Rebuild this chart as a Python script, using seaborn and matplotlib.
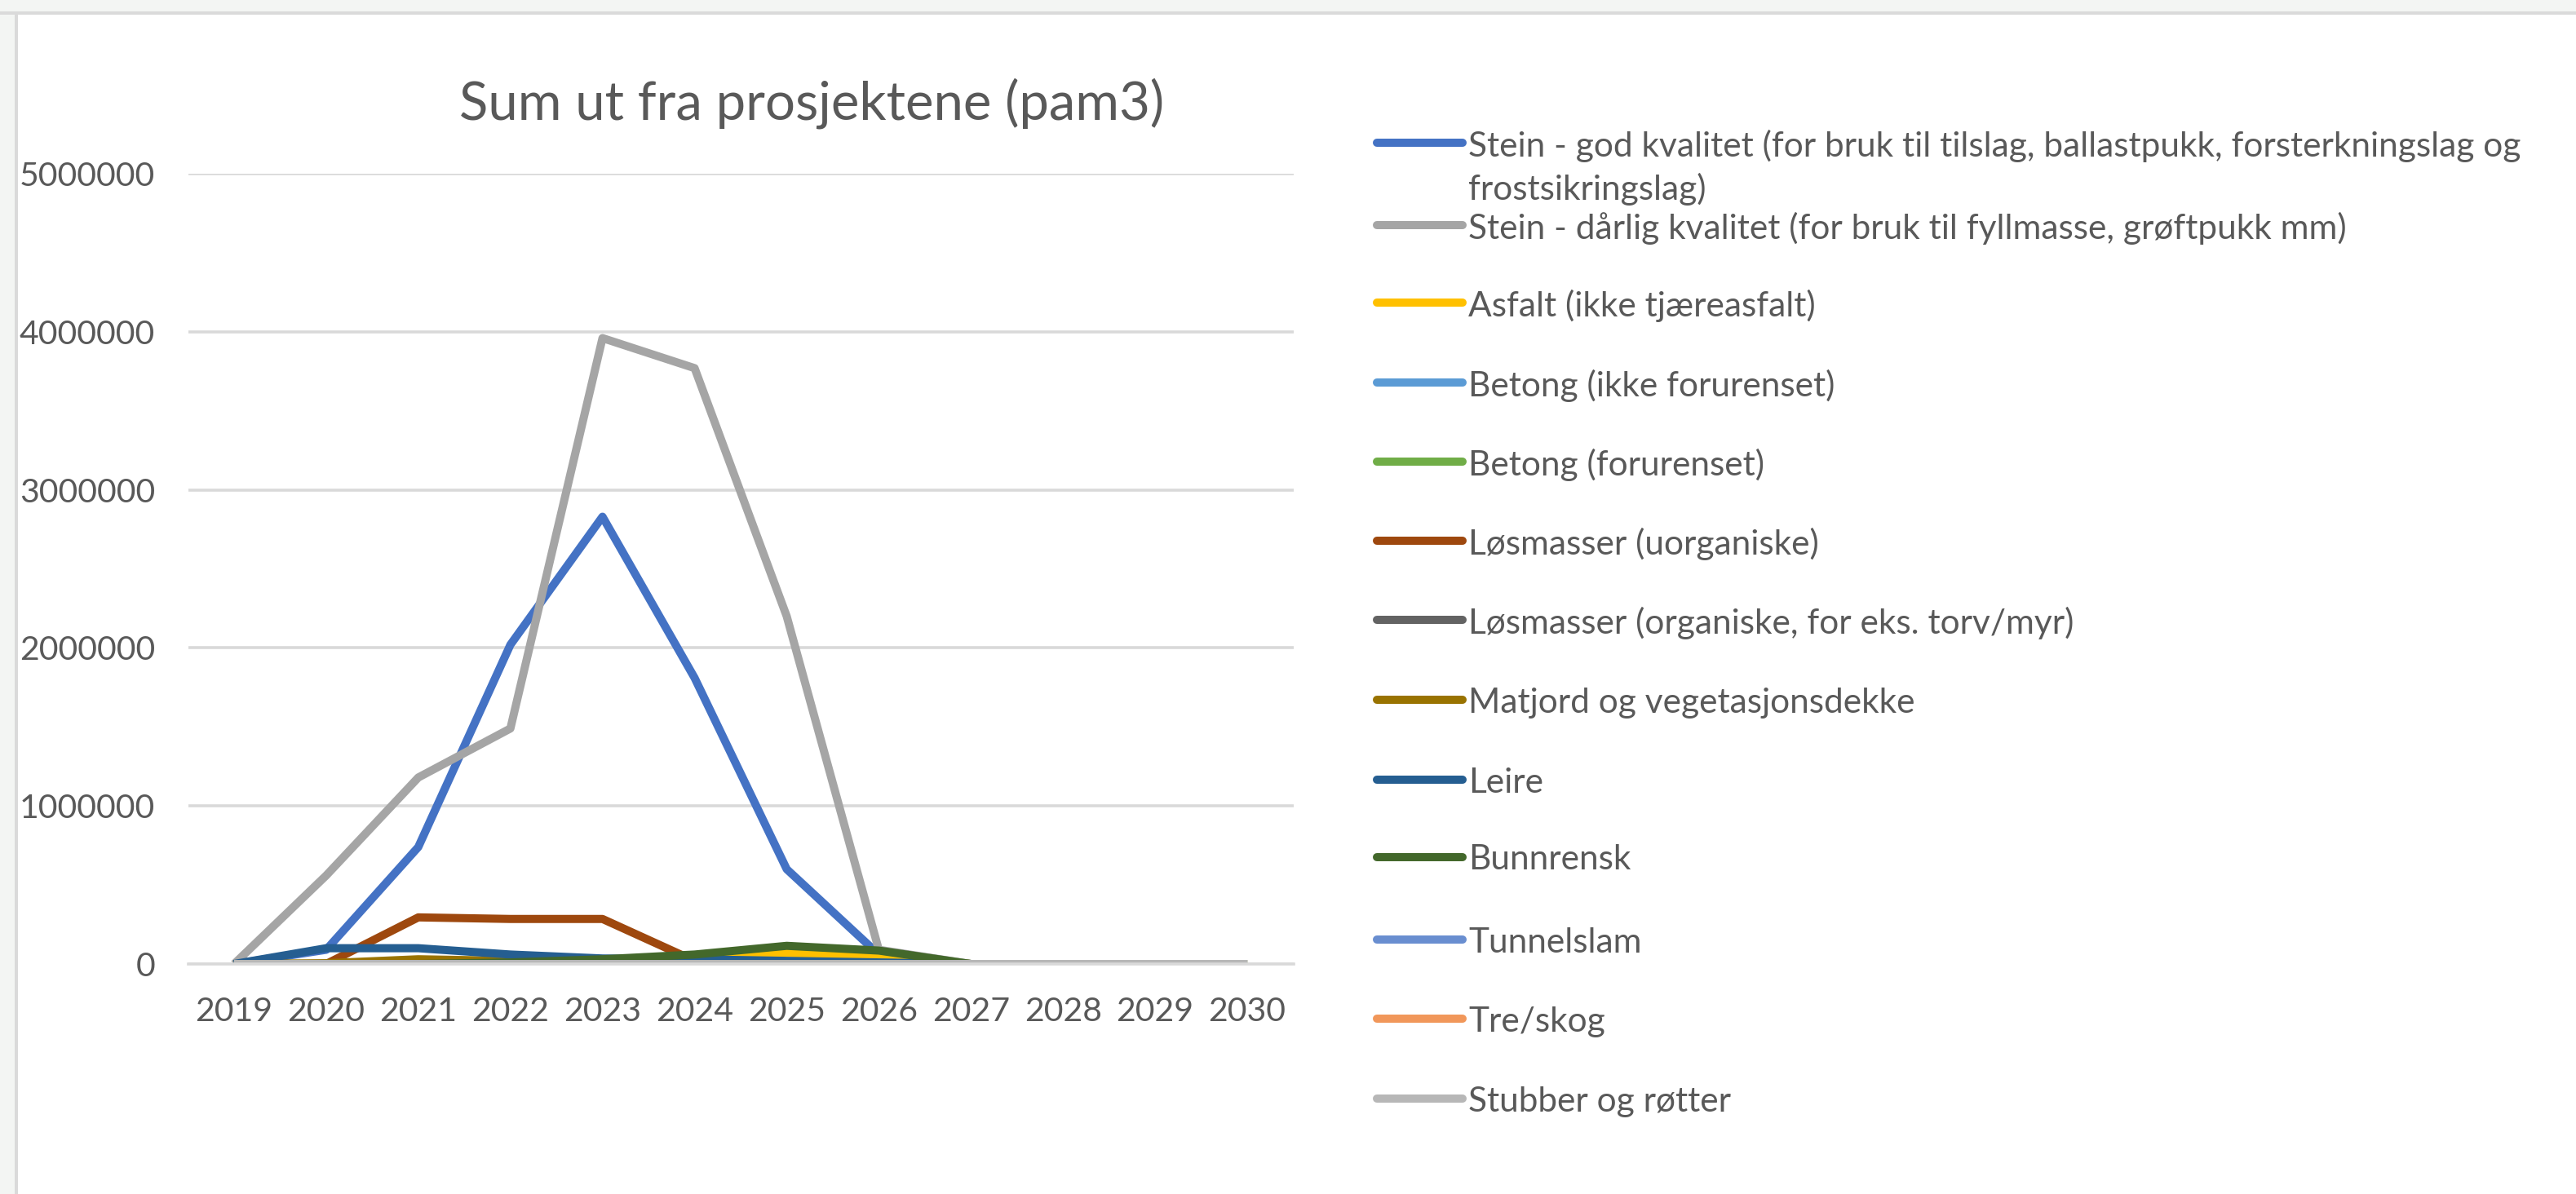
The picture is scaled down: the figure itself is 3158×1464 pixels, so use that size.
import numpy as np
import pandas as pd
import matplotlib
matplotlib.use("Agg")
import matplotlib.pyplot as plt
import seaborn as sns
from matplotlib.lines import Line2D
from matplotlib.patches import Rectangle

years = [2019, 2020, 2021, 2022, 2023, 2024, 2025, 2026, 2027, 2028, 2029, 2030]

series_names = [
    "Stein - god kvalitet (for bruk til tilslag, ballastpukk, forsterkningslag og\nfrostsikringslag)",
    "Stein - dårlig kvalitet (for bruk til fyllmasse, grøftpukk mm)",
    "Asfalt (ikke tjæreasfalt)",
    "Betong (ikke forurenset)",
    "Betong (forurenset)",
    "Løsmasser (uorganiske)",
    "Løsmasser (organiske, for eks. torv/myr)",
    "Matjord og vegetasjonsdekke",
    "Leire",
    "Bunnrensk",
    "Tunnelslam",
    "Tre/skog",
    "Stubber og røtter",
]

stein_god = [0, 90000, 740000, 2020000, 2830000, 1810000, 600000, 60000, 0, 0, 0, 0]
stein_darlig = [0, 560000, 1180000, 1490000, 3960000, 3770000, 2200000, 90000, 0, 0, 0, 0]
asfalt = [0, 0, 5000, 10000, 10000, 20000, 70000, 40000, 0, 0, 0, 0]
betong_ikke = [0, 0, 0, 0, 0, 0, 5000, 0, 0, 0, 0, 0]
betong_forurenset = [0, 0, 0, 0, 0, 0, 0, 0, 0, 0, 0, 0]
losmasser_uorg = [0, 0, 295000, 285000, 285000, 20000, 10000, 0, 0, 0, 0, 0]
losmasser_org = [0, 0, 0, 0, 0, 0, 0, 0, 0, 0, 0, 0]
matjord = [0, 5000, 30000, 20000, 10000, 0, 0, 0, 0, 0, 0, 0]
leire = [0, 100000, 100000, 60000, 35000, 30000, 20000, 10000, 0, 0, 0, 0]
bunnrensk = [0, 0, 0, 10000, 30000, 60000, 115000, 85000, 0, 0, 0, 0]
tunnelslam = [0, 0, 0, 0, 0, 0, 0, 0, 0, 0, 0, 0]
tre_skog = [0, 0, 0, 0, 0, 0, 0, 0, 0, 0, 0, 0]
stubber = [0, 0, 0, 0, 0, 0, 0, 0, 0, 0, 0, 0]

all_values = [stein_god, stein_darlig, asfalt, betong_ikke, betong_forurenset,
              losmasser_uorg, losmasser_org, matjord, leire, bunnrensk,
              tunnelslam, tre_skog, stubber]

colors = ["#4472C4", "#A5A5A5", "#FFC000", "#5B9BD5", "#70AD47", "#9E480E",
          "#636363", "#997300", "#255E91", "#43682B", "#698ED0", "#F1975A", "#B7B7B7"]

rows = []
for name, vals in zip(series_names, all_values):
    for y, v in zip(years, vals):
        rows.append({"År": y, "Verdi": v, "Serie": name})
df = pd.DataFrame(rows)

sns.set_theme(style="white")
plt.rcParams['font.family'] = ['Lato', 'DejaVu Sans']

W, H = 3158, 1464
fig = plt.figure(figsize=(W / 100, H / 100), dpi=100, facecolor="white")

# outer frame (light gray strips + border)
fig.add_artist(Rectangle((0, 1 - 14 / H), 1, 14 / H, transform=fig.transFigure,
                         facecolor="#F3F5F3", edgecolor="none", zorder=0))
fig.add_artist(Rectangle((0, 0), 18 / W, 1, transform=fig.transFigure,
                         facecolor="#F3F5F3", edgecolor="none", zorder=0))
fig.add_artist(Rectangle((0, 1 - 18 / H), 1, 4 / H, transform=fig.transFigure,
                         facecolor="#DADADA", edgecolor="none", zorder=0))
fig.add_artist(Rectangle((18 / W, 0), 4 / W, 1 - 14 / H, transform=fig.transFigure,
                         facecolor="#DADADA", edgecolor="none", zorder=0))

ax_left, ax_right = 230.5, 1585.5
ax_top, ax_bottom = 213, 1182
ax = fig.add_axes([ax_left / W, 1 - ax_bottom / H, (ax_right - ax_left) / W, (ax_bottom - ax_top) / H])
ax.set_facecolor("none")

sns.lineplot(data=df, x="År", y="Verdi", hue="Serie", hue_order=series_names,
             palette=colors, linewidth=7.2, legend=False, sort=False, ax=ax,
             solid_joinstyle="round", solid_capstyle="butt")

ax.set_xlim(2018.5, 2030.5)
ax.set_ylim(0, 5000000)
ax.set_xticks(years)
ax.set_xticklabels([str(y) for y in years])
ax.set_yticks([0, 1000000, 2000000, 3000000, 4000000, 5000000])
ax.set_yticklabels(["0", "1000000", "2000000", "3000000", "4000000", "5000000"])
ax.yaxis.grid(True, color="#D9D9D9", linewidth=2.6)
ax.set_axisbelow(True)
for s in ["top", "right", "left"]:
    ax.spines[s].set_visible(False)
ax.spines["bottom"].set_color("#D9D9D9")
ax.spines["bottom"].set_linewidth(2.6)
ax.tick_params(axis="both", length=0, labelsize=29.5, labelcolor="#595959")
ax.tick_params(axis="y", pad=29)
ax.tick_params(axis="x", pad=29)
ax.set_xlabel("")
ax.set_ylabel("")

fig.text(995 / W, 1 - 127 / H, "Sum ut fra prosjektene (pam3)", ha="center", va="center",
         fontsize=47, color="#595959")

# legend (manual layout)
legend_y = [175, 276, 371, 469, 566, 663, 760, 858, 956, 1051, 1152, 1249, 1347]
hx0, hx1, tx = 1688, 1793, 1800
for name, col, yy in zip(series_names, colors, legend_y):
    fy = 1 - yy / H
    fig.add_artist(Line2D([hx0 / W, hx1 / W], [fy, fy], transform=fig.transFigure,
                          color=col, linewidth=7.2, solid_capstyle="round"))
    lines = name.split("\n")
    for i, ln in enumerate(lines):
        fig.text(tx / W, 1 - (yy + i * 53) / H, ln, ha="left", va="center_baseline",
                 fontsize=30.5, color="#595959")

fig.savefig("out.png", dpi=100, facecolor="white")
